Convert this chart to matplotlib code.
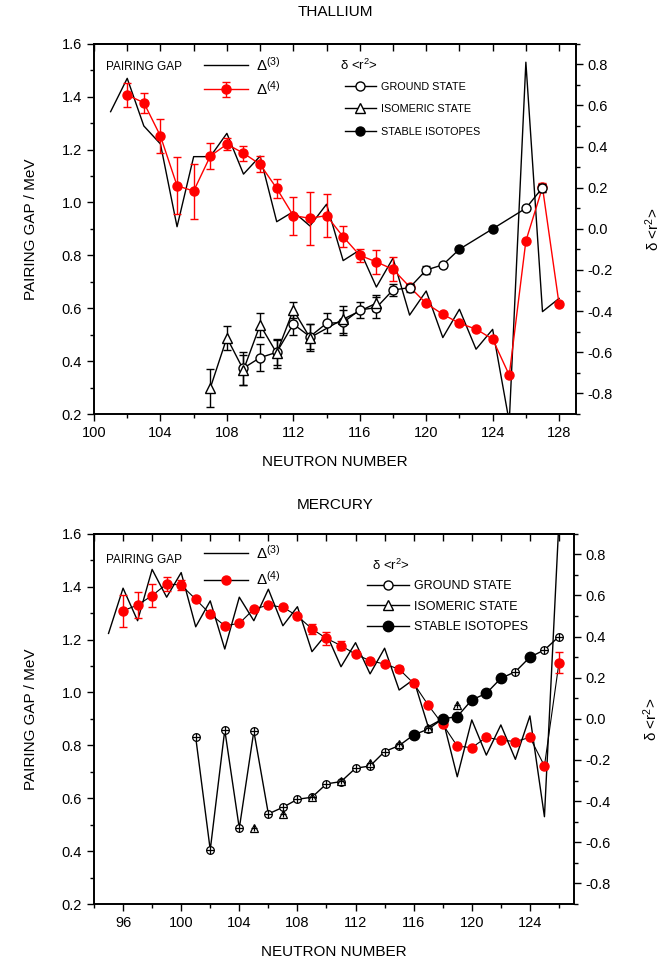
import matplotlib
matplotlib.use('Agg')
import matplotlib.pyplot as plt
import numpy as np
from matplotlib.ticker import MultipleLocator

plt.rcParams['font.family'] = ['Liberation Sans', 'DejaVu Sans']
plt.rcParams['mathtext.fontset'] = 'custom'
plt.rcParams['mathtext.rm'] = 'Liberation Sans'
plt.rcParams['mathtext.it'] = 'Liberation Sans'

# ---------------- THALLIUM ----------------
tl_n3 = list(range(101, 129))
tl_d3 = [1.343, 1.469, 1.289, 1.221, 0.908, 1.173, 1.173, 1.261, 1.107, 1.175,
         0.927, 0.965, 0.911, 0.993, 0.78, 0.82, 0.68, 0.789, 0.574, 0.665,
         0.489, 0.596, 0.445, 0.52, 0.17, 1.53, 0.587, 0.637]
tl_n4 = list(range(102, 129))
tl_d4 = [1.406, 1.377, 1.251, 1.063, 1.043, 1.175, 1.220, 1.186, 1.144, 1.053,
         0.950, 0.940, 0.950, 0.870, 0.800, 0.775, 0.747, 0.681, 0.618, 0.577,
         0.543, 0.521, 0.483, 0.347, 0.854, 1.057, 0.615]
tl_e4 = [0.044, 0.038, 0.063, 0.107, 0.104, 0.049, 0.023, 0.028, 0.030, 0.035,
         0.072, 0.100, 0.080, 0.040, 0.025, 0.045, 0.046, 0.010, 0.0, 0.0,
         0.0, 0.0, 0.0, 0.0, 0.0, 0.016, 0.0]
tl_gs_n = [109, 110, 111, 112, 113, 114, 115, 116, 117, 118, 119, 120, 121, 126, 127]
tl_gs_v = [-0.677, -0.626, -0.600, -0.463, -0.524, -0.459, -0.455, -0.394, -0.383,
           -0.297, -0.286, -0.200, -0.175, 0.100, 0.200]
tl_gs_e = [0.080, 0.065, 0.060, 0.055, 0.060, 0.048, 0.060, 0.040, 0.050,
           0.028, 0.020, 0.020, 0.008, 0.008, 0.020]
tl_is_n = [107, 108, 109, 110, 111, 112, 113, 115, 117]
tl_is_v = [-0.774, -0.529, -0.686, -0.467, -0.604, -0.394, -0.529, -0.439, -0.361]
tl_is_e = [0.093, 0.058, 0.075, 0.058, 0.070, 0.040, 0.065, 0.065, 0.040]
tl_st_n = [122, 124]
tl_st_v = [-0.099, 0.000]

# ---------------- MERCURY ----------------
hg_n3 = list(range(95, 127))
hg_d3 = [1.223, 1.394, 1.271, 1.465, 1.360, 1.453, 1.248, 1.346, 1.164, 1.360,
         1.271, 1.390, 1.252, 1.324, 1.154, 1.221, 1.097, 1.188, 1.070, 1.167,
         1.009, 1.049, 0.870, 0.900, 0.681, 0.896, 0.763, 0.877, 0.747, 0.911,
         0.530, 1.650]
hg_n4 = list(range(96, 127))
hg_d4 = [1.309, 1.330, 1.366, 1.410, 1.406, 1.352, 1.296, 1.252, 1.261, 1.315,
         1.330, 1.322, 1.289, 1.240, 1.204, 1.177, 1.144, 1.120, 1.107, 1.088,
         1.034, 0.952, 0.879, 0.797, 0.791, 0.830, 0.820, 0.814, 0.830, 0.722,
         1.112]
hg_e4 = [0.061, 0.050, 0.044, 0.027, 0.020, 0.008, 0.0, 0.0, 0.0, 0.0,
         0.0, 0.0, 0.0, 0.020, 0.023, 0.018, 0.0, 0.0, 0.0, 0.010,
         0.010, 0.0, 0.0, 0.0, 0.0, 0.0, 0.0, 0.0, 0.0, 0.0,
         0.040]
hg_gs_n = [101, 102, 103, 104, 105, 106, 107, 108, 109, 110, 111, 112, 113, 114,
           115, 117, 123, 125, 126]
hg_gs_v = [-0.090, -0.637, -0.054, -0.532, -0.060, -0.462, -0.430, -0.391, -0.381,
           -0.316, -0.305, -0.240, -0.229, -0.159, -0.130, -0.050, 0.229, 0.335, 0.400]
hg_is_n = [105, 107, 109, 111, 113, 115, 117, 119]
hg_is_v = [-0.532, -0.462, -0.381, -0.300, -0.216, -0.122, -0.046, 0.068]
hg_st_n = [116, 118, 119, 120, 121, 122, 124]
hg_st_v = [-0.078, 0.000, 0.011, 0.092, 0.124, 0.197, 0.300]

W, H = 662, 961
fig = plt.figure(figsize=(W / 100, H / 100), dpi=100)

def ax_rect(left, top, right, bottom):
    return [left / W, 1 - bottom / H, (right - left) / W, (bottom - top) / H]

ax1 = fig.add_axes(ax_rect(94, 43.7, 575.7, 414))
ax2 = fig.add_axes(ax_rect(94, 533.7, 573.5, 904))

def style_axes(ax, axr, xlim, xmajor):
    ax.set_xlim(*xlim)
    ax.set_ylim(0.2, 1.6)
    axr.set_ylim(-0.9, 0.9)
    ax.xaxis.set_major_locator(MultipleLocator(xmajor))
    ax.xaxis.set_minor_locator(MultipleLocator(xmajor / 2))
    ax.yaxis.set_major_locator(MultipleLocator(0.2))
    ax.yaxis.set_minor_locator(MultipleLocator(0.1))
    axr.yaxis.set_major_locator(MultipleLocator(0.2))
    axr.yaxis.set_minor_locator(MultipleLocator(0.1))
    ax.tick_params(which='both', direction='out', labelsize=10.5, width=1.0, top=False)
    ax.tick_params(which='major', length=5)
    ax.tick_params(which='minor', length=3)
    axr.tick_params(which='both', direction='out', labelsize=10.5, width=1.0)
    axr.tick_params(which='major', length=5)
    axr.tick_params(which='minor', length=3)
    ax.yaxis.set_major_formatter(matplotlib.ticker.FormatStrFormatter('%.1f'))
    axr.yaxis.set_major_formatter(matplotlib.ticker.FuncFormatter(
        lambda v, p: ('%.1f' % v) if abs(v) > 1e-9 else '0.0'))
    for a in (ax, axr):
        for s in a.spines.values():
            s.set_linewidth(1.2)
    sec = ax.secondary_xaxis('top')
    sec.xaxis.set_major_locator(MultipleLocator(xmajor / 2))
    sec.tick_params(direction='in', length=5, width=1.0, labeltop=False)
    sec.spines['top'].set_linewidth(1.2)
    ax.set_xlabel('NEUTRON NUMBER', fontsize=11, labelpad=11)
    ax.set_ylabel('PAIRING GAP / MeV', fontsize=11, labelpad=17)
    axr.set_ylabel('δ <r$^{2}$>', fontsize=11, labelpad=22)

# ----- Thallium -----
ax1r = ax1.twinx()
style_axes(ax1, ax1r, (100, 129), 4)
l3, = ax1.plot(tl_n3, tl_d3, color='black', lw=1.0, label='Δ$^{(3)}$')
l4 = ax1.errorbar(tl_n4, tl_d4, yerr=tl_e4, color='red', lw=1.0, marker='o', ms=6.5,
                  mfc='red', mec='red', ecolor='red', elinewidth=1.0, capsize=3,
                  label='Δ$^{(4)}$')
tl_line = sorted(zip(tl_gs_n + tl_st_n, tl_gs_v + tl_st_v))
ax1r.plot([p[0] for p in tl_line], [p[1] for p in tl_line], color='black', lw=1.0)
ax1r.plot(tl_is_n, tl_is_v, color='black', lw=1.0)
ax1r.errorbar(tl_gs_n, tl_gs_v, yerr=tl_gs_e, fmt='none', ecolor='black', elinewidth=1.0, capsize=3)
ax1r.errorbar(tl_is_n, tl_is_v, yerr=tl_is_e, fmt='none', ecolor='black', elinewidth=1.0, capsize=3)
ax1r.plot(tl_gs_n, tl_gs_v, ls='none', marker='o', ms=6.5, mfc='white', mec='black', mew=1.0)
ax1r.plot(tl_is_n, tl_is_v, ls='none', marker='^', ms=7.5, mfc='white', mec='black', mew=1.0)
ax1r.plot(tl_st_n, tl_st_v, ls='none', marker='o', ms=6.5, mfc='black', mec='black')

h_gs, = ax1r.plot([], [], color='black', lw=1.0, marker='o', ms=6.5, mfc='white', mec='black', label='GROUND STATE')
h_is, = ax1r.plot([], [], color='black', lw=1.0, marker='^', ms=7.5, mfc='white', mec='black', label='ISOMERIC STATE')
h_st, = ax1r.plot([], [], color='black', lw=1.0, marker='o', ms=6.5, mfc='black', mec='black', label='STABLE ISOTOPES')

leg1 = ax1r.legend(handles=[l3, l4], loc='upper left', bbox_to_anchor=(0.2, 1.005),
                   frameon=False, fontsize=11, handlelength=2.9, labelspacing=0.4,
                   handletextpad=0.5)
ax1r.add_artist(leg1)
ax1r.legend(handles=[h_gs, h_is, h_st], loc='upper left', bbox_to_anchor=(0.5, 0.924),
            frameon=False, fontsize=7.8, handlelength=2.9, labelspacing=1.15,
            handletextpad=0.45)
ax1.text(0.025, 0.937, 'PAIRING GAP', transform=ax1.transAxes, fontsize=8.5,
         va='center', ha='left')
ax1.text(0.511, 0.942, 'δ <r$^{2}$>', transform=ax1.transAxes, fontsize=9.5,
         va='center', ha='left')

# ----- Mercury -----
ax2r = ax2.twinx()
style_axes(ax2, ax2r, (94, 127), 4)
ax2.set_xticks(np.arange(96, 127, 4))
ax2.xaxis.set_minor_locator(MultipleLocator(2))
m3, = ax2.plot(hg_n3, hg_d3, color='black', lw=1.0, label='Δ$^{(3)}$')
ax2.plot(hg_n4, hg_d4, color='black', lw=0.8)
m4 = ax2.errorbar(hg_n4, hg_d4, yerr=hg_e4, fmt='o', color='red', ms=6.5,
                  mfc='red', mec='red', ecolor='red', elinewidth=1.0, capsize=3)
m4h, = ax2.plot([], [], color='black', lw=1.0, marker='o', ms=6.5, mfc='red', mec='red',
                label='Δ$^{(4)}$')
hg_line = sorted(zip(hg_gs_n + hg_st_n, hg_gs_v + hg_st_v))
ax2r.plot([p[0] for p in hg_line], [p[1] for p in hg_line], color='black', lw=1.0)
ax2r.plot(hg_gs_n, hg_gs_v, ls='none', marker='o', ms=5.5, mfc='white', mec='black', mew=0.9)
ax2r.plot(hg_gs_n, hg_gs_v, ls='none', marker='+', ms=5.5, mec='black', mew=0.9)
ax2r.plot(hg_is_n, hg_is_v, ls='none', marker='^', ms=6, mfc='white', mec='black', mew=0.9)
ax2r.plot(hg_is_n, hg_is_v, ls='none', marker='+', ms=5, mec='black', mew=0.9)
ax2r.plot(hg_st_n, hg_st_v, ls='none', marker='o', ms=7.5, mfc='black', mec='black')

g_gs, = ax2r.plot([], [], color='black', lw=1.0, marker='o', ms=6.5, mfc='white', mec='black', label='GROUND STATE')
g_is, = ax2r.plot([], [], color='black', lw=1.0, marker='^', ms=7.5, mfc='white', mec='black', label='ISOMERIC STATE')
g_st, = ax2r.plot([], [], color='black', lw=1.0, marker='o', ms=7.5, mfc='black', mec='black', label='STABLE ISOTOPES')
leg2 = ax2r.legend(handles=[m3, m4h], loc='upper left', bbox_to_anchor=(0.2, 1.01),
                   frameon=False, fontsize=11, handlelength=2.9, labelspacing=0.55,
                   handletextpad=0.5)
ax2r.add_artist(leg2)
ax2r.legend(handles=[g_gs, g_is, g_st], loc='upper left', bbox_to_anchor=(0.545, 0.905),
            frameon=False, fontsize=9, handlelength=3.4, labelspacing=0.68,
            handletextpad=0.4)
ax2.text(0.025, 0.93, 'PAIRING GAP', transform=ax2.transAxes, fontsize=8.5,
         va='center', ha='left')
ax2.text(0.58, 0.915, 'δ <r$^{2}$>', transform=ax2.transAxes, fontsize=9.5,
         va='center', ha='left')

fig.text(335 / W, 1 - 12 / H, 'THALLIUM', ha='center', va='center', fontsize=11)
fig.text(335 / W, 1 - 505 / H, 'MERCURY', ha='center', va='center', fontsize=11)

fig.savefig('out.png', dpi=100)
